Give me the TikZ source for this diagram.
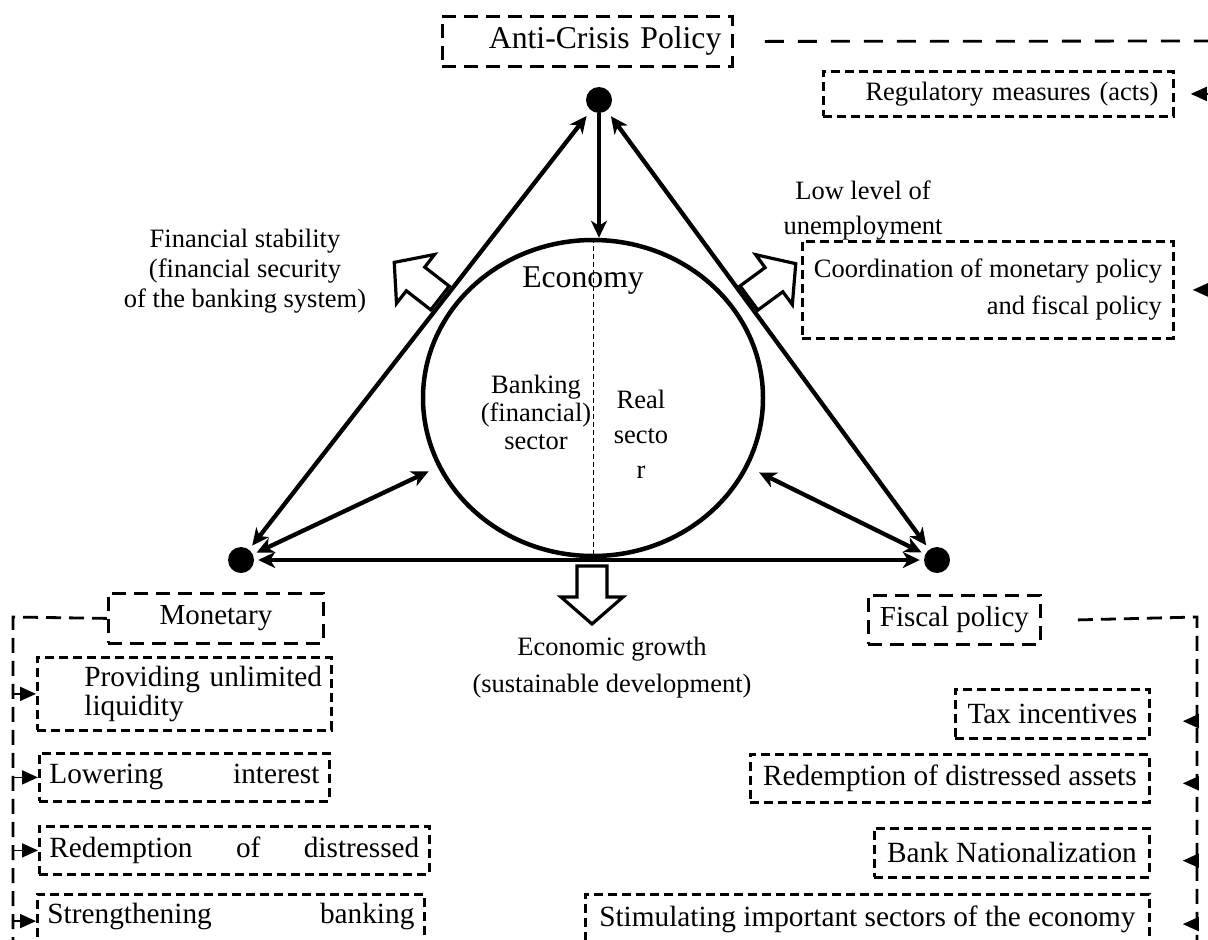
\documentclass[tikz,border=0pt]{standalone}
\usepackage{fontspec}
\setmainfont{Liberation Serif}
\usetikzlibrary{arrows.meta,shapes.geometric}

\newcommand{\fsbody}{\fontsize{26.5}{30}\selectfont}
\newcommand{\fsitem}{\fontsize{29.3}{29}\selectfont}
\newcommand{\fshead}{\fontsize{29}{32}\selectfont}
\newcommand{\fsbig}{\fontsize{31.7}{36}\selectfont}

\begin{document}
\begin{tikzpicture}[x=1pt,y=-1pt,
  every node/.style={font=\fsbody, inner sep=0pt},
  dot/.style={circle, fill=black, minimum size=26pt, inner sep=0pt},
  link/.style={line width=4.3pt, {Stealth[length=17pt,width=16pt,inset=5pt]}-{Stealth[length=17pt,width=16pt,inset=5pt]}, shorten <=4pt, shorten >=4pt},
  down/.style={line width=4.3pt, -{Stealth[length=17pt,width=16pt,inset=5pt]}},
  headbox/.style={draw, line width=2.8pt, dash pattern=on 14pt off 8pt, anchor=north west, font=\fshead},
  itembox/.style={draw, line width=2.8pt, dash pattern=on 9pt off 5pt, anchor=north west, font=\fsitem},
  feed/.style={line width=2.8pt, dash pattern=on 15pt off 8pt},
  branch/.style={line width=1.8pt, -{Triangle[length=16pt,width=14pt]}},
  hollow/.pic={\draw[line width=3.2pt, fill=white, miter limit=10]
      (0,-15) -- (31,-15) -- (31,-31) -- (58,0) -- (31,31) -- (31,15) -- (0,15) -- cycle;}
]
\useasboundingbox (0,0) rectangle (1208,940);
\clip (0,0) rectangle (1208,940);

% ---------- core triangle ----------
\node[draw, ellipse, line width=4.5pt, minimum width=340pt, minimum height=316pt] (eco) at (593,398) {};
\draw[line width=0.9pt, dash pattern=on 5pt off 3pt] (eco.north) -- (eco.south);

\node[dot] (T) at (599,100) {};
\node[dot] (L) at (241,560) {};
\node[dot] (R) at (937,560) {};

\draw[link, shorten <=7pt, shorten >=5pt] (T) -- (L);
\draw[link, shorten <=7pt, shorten >=5pt] (T) -- (R);
\draw[link] (L) -- (R);
\draw[link, shorten >=10pt] (L) -- (eco.204);
\draw[link, shorten >=12pt] (R) -- (eco.336);
\draw[down] (T) -- (T |- eco.north);

% hollow outcome arrows
\pic[rotate=-90] at (592,566) {hollow};
\pic[rotate=36.3] at (749,298) {hollow};
\pic[rotate=142.1] at (440,298) {hollow};

% ---------- texts inside the economy ----------
\node[font=\fsbig, anchor=base] (ecot) at (583,287) {Economy};
\node[align=center, font=\fontsize{26.5}{28}\selectfont] (bank) at (536,412) {Banking\\(financial)\\sector};
\node[align=center, font=\fontsize{26.5}{35}\selectfont] (real) at (641,434) {Real\\secto\\r};

% ---------- outcome labels ----------
\node[align=center] (fin) at (245,271) {Financial stability\\(financial security\\of the banking system)};
\node[align=center, font=\fontsize{26.5}{35}\selectfont] (unemp) at (863,211) {Low level of\\unemployment};
\node[align=center, font=\fontsize{26.5}{37}\selectfont] (growth) at (612,668) {Economic growth\\(sustainable development)};

% ---------- anti-crisis policy ----------
\node[headbox, font=\fsbig, minimum width=290pt, minimum height=50pt, text width=268pt, inner xsep=11pt, align=right] (anti) at (441,15) {Anti-Crisis Policy};
\node[itembox, font=\fsbody, minimum width=350pt, minimum height=45pt, text width=320pt, inner xsep=15pt, align=right] (reg) at (822,70) {Regulatory measures (acts)};
\node[itembox, font=\fsbody, minimum width=371pt, minimum height=97pt, align=right] (coord) at (801,240) {Coordination of monetary policy\\[7pt]and fiscal policy};
\coordinate (rline) at (1222,41);
\draw[line width=2.8pt, dash pattern=on 19pt off 14pt] ([xshift=31pt]anti.east) -- (rline);
\draw[branch, shorten >=16pt] (rline |- reg.east) -- (reg.east);
\draw[branch, shorten >=18pt] (rline |- coord.east) -- (coord.east);

% ---------- monetary policy ----------
\node[headbox, minimum width=215pt, minimum height=50pt] (mon) at (107,592) {Monetary};
\node[itembox, minimum width=294pt, minimum height=73pt, text width=286pt, inner xsep=4pt, align=left] (prov) at (36,656)
  {\hspace*{43pt}\mbox{Providing unlimited}\\\hspace*{43pt}liquidity};
\node[itembox, minimum width=290pt, minimum height=48pt, text width=270pt, inner xsep=10pt, align=left] (lower) at (38,752)
  {Lowering\hspace{\fill}interest};
\node[itembox, minimum width=390pt, minimum height=48pt, text width=370pt, inner xsep=10pt, align=left] (redm) at (38,825)
  {Redemption\hspace{\fill}of\hspace{\fill}distressed};
\node[itembox, minimum width=387pt, text width=367pt, inner xsep=10pt, inner ysep=7pt, text height=22pt, text depth=80pt, align=left] (stren) at (36,893)
  {Strengthening\hspace{\fill}banking};
\coordinate (mline) at (13,617);
\coordinate (mend) at (13,960);
\draw[feed] (mon.west) -- (mline) -- (mend);
\draw[branch] (mline |- prov.west) -- (prov.west);
\draw[branch] (mline |- lower.west) -- (lower.west);
\draw[branch] (mline |- redm.west) -- (redm.west);
\draw[branch] (mline |- stren.mid west) -- (stren.mid west);

% ---------- fiscal policy ----------
\node[headbox, minimum width=172pt, minimum height=49pt] (fisc) at (867,594) {Fiscal policy};
\node[itembox, minimum width=194pt, minimum height=49pt] (tax) at (954,688) {Tax incentives};
\node[itembox, minimum width=399pt, minimum height=48pt] (redf) at (749,753) {Redemption of distressed assets};
\node[itembox, minimum width=275pt, minimum height=49pt] (natl) at (873,827) {Bank Nationalization};
\node[itembox, minimum width=564pt, inner ysep=10pt, text height=22pt, text depth=80pt] (stim) at (584,893) {Stimulating important sectors of the economy};
\coordinate (fline) at (1197,617);
\coordinate (fend) at (1197,960);
\draw[feed] ([xshift=36pt]fisc.east) -- (fline) -- (fend);
\draw[branch, shorten >=32pt] (fline |- tax.mid east) -- (tax.mid east);
\draw[branch, shorten >=32pt] (fline |- redf.mid east) -- (redf.mid east);
\draw[branch, shorten >=32pt] (fline |- natl.mid east) -- (natl.mid east);
\draw[branch, shorten >=32pt] (fline |- stim.mid east) -- (stim.mid east);
\end{tikzpicture}
\end{document}
